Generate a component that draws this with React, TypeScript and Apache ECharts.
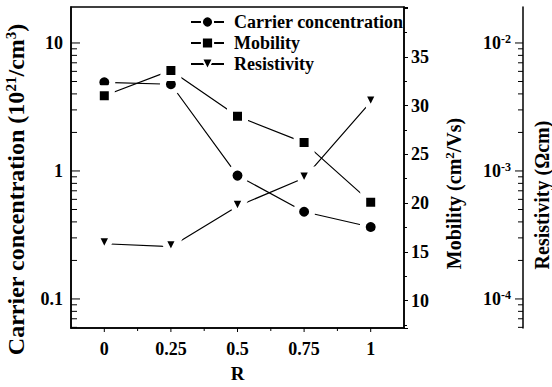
import React, { useEffect, useRef } from 'react';
import * as echarts from 'echarts';

const rValues = [0, 0.25, 0.5, 0.75, 1];
const xTickLabels = ['0', '0.25', '0.5', '0.75', '1'];
const xMinorTicks = [0.125, 0.375, 0.625, 0.875];

const carrierConc = [4.93, 4.76, 0.92, 0.48, 0.365];
const mobility = [31.0, 33.6, 28.9, 26.2, 20.1];
const resistivity = [2.7e-4, 2.56e-4, 5.3e-4, 8.8e-4, 3.46e-3];

const carrierTicks = [0.1, 1, 10];
const carrierTickLabels = ['0.1', '1', '10'];
const carrierMinor = [0.06, 0.07, 0.08, 0.09, 0.2, 0.3, 0.4, 0.5, 0.6, 0.7, 0.8, 0.9, 2, 3, 4, 5, 6, 7, 8, 9];

const mobilityTicks = [10, 15, 20, 25, 30, 35];

const resistivityTicks = [1e-4, 1e-3, 1e-2];
const resistivityExp = ['-4', '-3', '-2'];
const resistivityMinor = [6e-5, 7e-5, 8e-5, 9e-5, 2e-4, 3e-4, 4e-4, 5e-4, 6e-4, 7e-4, 8e-4, 9e-4, 2e-3, 3e-3, 4e-3, 5e-3, 6e-3, 7e-3, 8e-3, 9e-3];

const seriesNames = ['Carrier concentration', 'Mobility', 'Resistivity'];

const FONT = 'Liberation Serif';

export default function App() {
  const ref = useRef<HTMLDivElement>(null);
  useEffect(() => {
    document.body.style.margin = '0';
    const chart = echarts.init(ref.current!, null, { renderer: 'svg' });
    const txt = { fontFamily: FONT, fontWeight: 'bold' as const, color: '#000' };
    const xMin = -0.125, xMax = 1.125;
    const leftMin = 0.0593, leftMax = 19.1;
    const resMin = 5.93e-5, resMax = 1.91e-2;
    const mobMin = 7.2, mobMax = 40.1;
    const RES_OFFSET = 119;

    // tick marks drawn through the axes' own scales
    const yTicks = (yAxisIndex: number, values: number[], len: number, side: 'left' | 'right', dx: number) => ({
      type: 'custom', xAxisIndex: 0, yAxisIndex, silent: true, clip: false, z: 5,
      data: values.map((v) => [side === 'left' ? xMin : xMax, v]),
      renderItem: (_p: any, api: any) => {
        const p = api.coord([api.value(0), api.value(1)]);
        const x = p[0] + dx;
        return { type: 'line', shape: { x1: x, y1: p[1], x2: x + len, y2: p[1] + 0.001 }, style: { stroke: '#000', lineWidth: 1, fill: null } };
      },
    });
    const xTicks = (values: number[], len: number) => ({
      type: 'custom', xAxisIndex: 0, yAxisIndex: 0, silent: true, clip: false, z: 5,
      data: values.map((v) => [v, leftMin]),
      renderItem: (_p: any, api: any) => {
        const p = api.coord([api.value(0), api.value(1)]);
        return { type: 'line', shape: { x1: p[0], y1: p[1], x2: p[0] + 0.001, y2: p[1] + len }, style: { stroke: '#000', lineWidth: 1 } };
      },
    });

    const markerStyle = { color: '#000', borderColor: '#fff', borderWidth: 6 };
    chart.setOption({
      animation: false,
      grid: { left: 71, right: 148, top: 7, bottom: 59, outerBoundsMode: 'none', containLabel: false, show: true, borderColor: '#000', borderWidth: 1.5, backgroundColor: 'transparent' },
      legend: {
        orient: 'vertical', left: 190, top: 13, padding: 0, itemGap: 3, itemWidth: 33, itemHeight: 14,
        data: seriesNames,
        textStyle: { ...txt, fontSize: 18, padding: [0, 0, 0, 5] },
      },
      xAxis: {
        type: 'value', min: xMin, max: xMax,
        name: 'R', nameLocation: 'middle', nameGap: 36,
        nameTextStyle: { ...txt, fontSize: 19 },
        axisLine: { onZero: false, lineStyle: { color: '#000', width: 1.5 } },
        axisTick: { show: false },
        axisLabel: {
          customValues: rValues, ...txt, fontSize: 18, margin: 12,
          formatter: (v: number) => xTickLabels[rValues.indexOf(v)] ?? '',
        },
        splitLine: { show: false },
      },
      yAxis: [
        {
          type: 'log', min: leftMin, max: leftMax, position: 'left',
          name: '{a|Carrier concentration (10}{s|21}{a|/cm}{s|3}{a|)}',
          nameLocation: 'middle', nameGap: 42,
          nameTextStyle: { ...txt, padding: [0, 44, 0, 0], rich: { a: { ...txt, fontSize: 24, lineHeight: 26 }, s: { ...txt, fontSize: 15, lineHeight: 15, verticalAlign: 'top' } } },
          axisLine: { show: true, onZero: false, lineStyle: { color: '#000', width: 1.5 } },
          axisTick: { show: false },
          axisLabel: {
            customValues: carrierTicks, ...txt, fontSize: 18, margin: 8,
            formatter: (v: number) => carrierTickLabels[Math.round(Math.log10(v)) + 1] ?? '',
          },
          splitLine: { show: false },
        },
        {
          type: 'value', min: mobMin, max: mobMax, position: 'right',
          name: '{a|Mobility (cm}{s|2}{a|/Vs)}',
          nameLocation: 'middle', nameGap: 39,
          nameTextStyle: { ...txt, padding: [0, 52, 0, 0], rich: { a: { ...txt, fontSize: 20, lineHeight: 22 }, s: { ...txt, fontSize: 13, lineHeight: 13, verticalAlign: 'top' } } },
          axisLine: { show: true, onZero: false, lineStyle: { color: '#000', width: 1.5 } },
          axisTick: { show: true, length: 4, lineStyle: { color: '#000', width: 1 } },
          minorTick: { show: true, splitNumber: 2, length: 3, lineStyle: { color: '#000', width: 1 } },
          axisLabel: { customValues: mobilityTicks, ...txt, fontSize: 18, margin: 7 },
          splitLine: { show: false },
        },
        {
          type: 'log', min: resMin, max: resMax, position: 'right', offset: RES_OFFSET,
          name: 'Resistivity (Ωcm)',
          nameLocation: 'middle', nameGap: 9,
          nameTextStyle: { ...txt, fontSize: 20, padding: [0, 55, 0, 0] },
          axisLine: { show: true, onZero: false, lineStyle: { color: '#000', width: 1.5 } },
          axisTick: { show: false },
          axisLabel: {
            inside: true, customValues: resistivityTicks, margin: 12,
            formatter: (v: number) => '{b|10}{s|' + (resistivityExp[Math.round(Math.log10(v)) + 4] ?? '') + '}',
            rich: { b: { ...txt, fontSize: 18, lineHeight: 20 }, s: { ...txt, fontSize: 12, lineHeight: 12, verticalAlign: 'top' } },
          },
          splitLine: { show: false },
        },
      ],
      series: [
        {
          name: seriesNames[0], type: 'line', yAxisIndex: 0,
          data: rValues.map((r, i) => [r, carrierConc[i]]),
          symbol: 'circle', symbolSize: 16,
          itemStyle: markerStyle, lineStyle: { color: '#000', width: 1.2 },
        },
        {
          name: seriesNames[1], type: 'line', yAxisIndex: 1,
          data: rValues.map((r, i) => [r, mobility[i]]),
          symbol: 'rect', symbolSize: 15,
          itemStyle: markerStyle, lineStyle: { color: '#000', width: 1.2 },
        },
        {
          name: seriesNames[2], type: 'line', yAxisIndex: 2,
          data: rValues.map((r, i) => [r, resistivity[i]]),
          symbol: 'triangle', symbolSize: 17, symbolRotate: 180,
          itemStyle: markerStyle, lineStyle: { color: '#000', width: 1.2 },
        },
        yTicks(0, carrierTicks, 9, 'left', 0),
        yTicks(0, carrierMinor, 6, 'left', 0),
        yTicks(2, resistivityTicks, -8, 'right', RES_OFFSET),
        yTicks(2, resistivityMinor, -5, 'right', RES_OFFSET),
        xTicks(rValues, 4),
        xTicks(xMinorTicks, 3),
      ],
    });
    return () => chart.dispose();
  }, []);
  return <div ref={ref} style={{ width: 552, height: 387 }} />;
}
